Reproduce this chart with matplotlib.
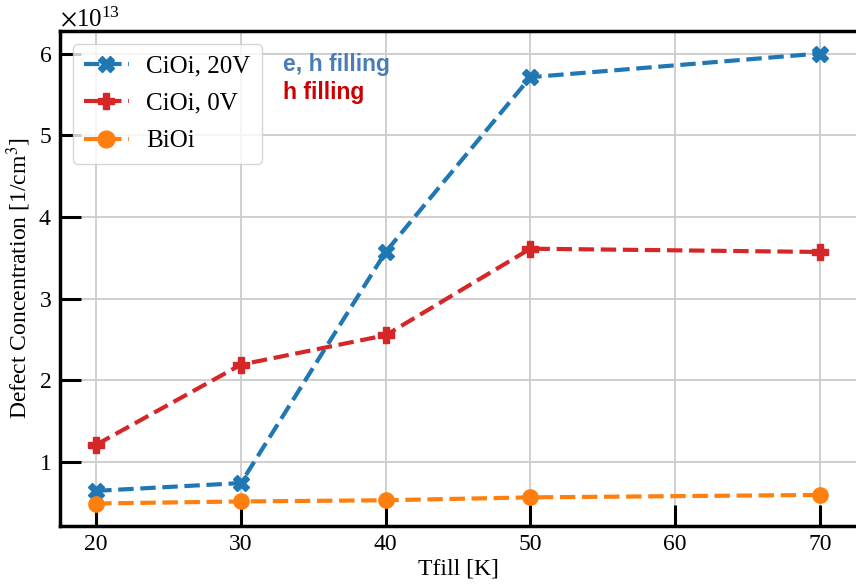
import matplotlib.pyplot as plt
from matplotlib.ticker import ScalarFormatter

# Data
tfill = [20, 30, 40, 50, 70]
cioi_20v = [0.645e13, 0.74e13, 3.57e13, 5.71e13, 6.0e13]
cioi_0v = [1.21e13, 2.19e13, 2.55e13, 3.61e13, 3.57e13]
bioi = [0.49e13, 0.515e13, 0.53e13, 0.565e13, 0.595e13]

plt.rcParams['font.family'] = ['Liberation Serif', 'DejaVu Serif']
plt.rcParams['mathtext.fontset'] = 'stix'

fig = plt.figure(figsize=(8.56, 5.84), dpi=100)
ax = fig.add_axes([60 / 856, 58 / 584, 796 / 856, 495 / 584])

ax.plot(tfill, cioi_20v, '--', color='tab:blue', marker='X', markersize=11, lw=3, label='CiOi, 20V')
ax.plot(tfill, cioi_0v, '--', color='tab:red', marker='P', markersize=11, lw=3, label='CiOi, 0V')
ax.plot(tfill, bioi, '--', color='tab:orange', marker='o', markersize=11, lw=3, label='BiOi')

ax.grid(True, color='#cccccc', lw=1.3)
ax.set_axisbelow(True)

fmt = ScalarFormatter(useMathText=True)
ax.yaxis.set_major_formatter(fmt)

ax.set_xlabel('Tfill [K]', fontsize=17, labelpad=2)
ax.set_ylabel('Defect Concentration [1/cm$^3$]', fontsize=17, labelpad=4)
ax.tick_params(axis='both', which='major', direction='in', length=15, width=2.2, labelsize=17, pad=6)
ax.yaxis.get_offset_text().set_fontsize(18)
for s in ax.spines.values():
    s.set_linewidth(2.5)
# the right edge of the frame is cut off in the reference
ax.spines['right'].set_visible(False)

leg = ax.legend(loc='upper left', fontsize=18, framealpha=0.8, borderpad=0.45,
                handlelength=1.8, handletextpad=0.7, labelspacing=0.6, markerscale=1.1)

ax.text(283, 584 - 65, 'e, h filling', transform=None, color='#4a7db5', fontsize=16.5, fontweight='bold',
        family='Liberation Sans', va='center')
ax.text(283, 584 - 92, 'h filling', transform=None, color='#cc0000', fontsize=16.5, fontweight='bold',
        family='Liberation Sans', va='center')

fig.savefig('out.png', dpi=100)
